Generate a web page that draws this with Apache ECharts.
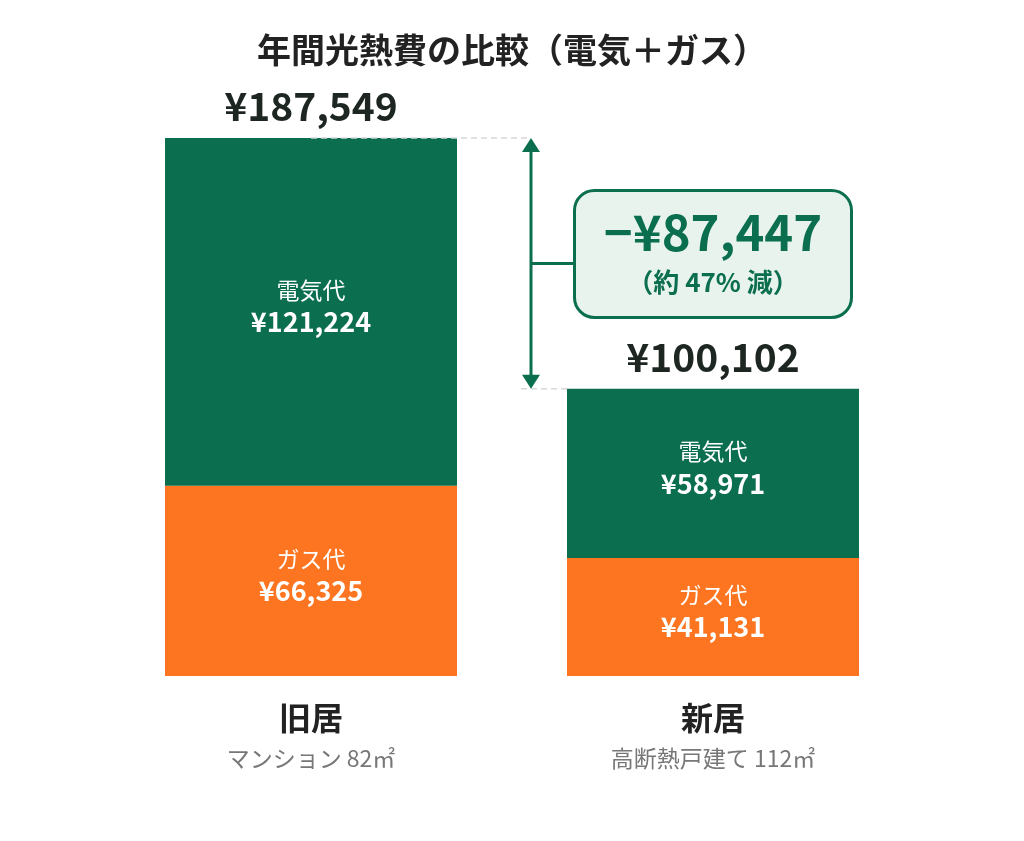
<!DOCTYPE html>
<html>
<head>
<meta charset="utf-8">
<script src="https://cdn.jsdelivr.net/npm/echarts@6/dist/echarts.min.js"></script>
<style>
html, body { margin: 0; padding: 0; background: #fff; }
#main { width: 1024px; height: 841px; }
</style>
</head>
<body>
<div id="main"></div>
<script>
var homes = ['旧居', '新居'];
var homeNotes = ['マンション 82㎡', '高断熱戸建て 112㎡'];
var gasCost = [66325, 41131];
var elecCost = [121224, 58971];
var totals = [187549, 100102];

var GREEN = '#0b6e4f';
var ORANGE = '#fd7520';
var FONT = '"Noto Sans CJK JP", "Noto Sans", sans-serif';

function yen(v) {
    return '¥' + v.toLocaleString('en-US');
}

var dom = document.getElementById('main');
var myChart = echarts.init(dom);

function segLabel(name) {
    return {
        show: true,
        position: 'inside',
        offset: [0, -6],
        formatter: function (p) {
            return '{a|' + name + '}\n{b|' + yen(p.value) + '}';
        },
        rich: {
            a: { color: '#fff', fontSize: 23, lineHeight: 32, fontFamily: FONT },
            b: { color: '#fff', fontSize: 27, fontWeight: 'bold', lineHeight: 32, fontFamily: FONT }
        }
    };
}

var option = {
    animation: false,
    title: {
        text: '年間光熱費の比較（電気＋ガス）',
        left: 'center',
        top: 28,
        textStyle: { fontSize: 34, fontWeight: 'bold', color: '#222', fontFamily: FONT }
    },
    grid: { left: 110, right: 110, top: 138, bottom: 165 },
    xAxis: {
        type: 'category',
        data: homes,
        axisLine: { show: false },
        axisTick: { show: false },
        axisLabel: {
            margin: 22,
            formatter: function (v, i) {
                return '{a|' + v + '}\n{b|' + homeNotes[i] + '}';
            },
            rich: {
                a: { fontSize: 32, fontWeight: 'bold', color: '#222', lineHeight: 40, fontFamily: FONT },
                b: { fontSize: 23, color: '#777', lineHeight: 40, fontFamily: FONT }
            }
        }
    },
    yAxis: {
        type: 'value',
        min: 0,
        max: totals[0],
        show: false,
        splitLine: { show: false }
    },
    series: [
        {
            name: 'ガス代',
            type: 'bar',
            stack: 'cost',
            barWidth: 292,
            data: gasCost,
            itemStyle: { color: ORANGE },
            label: segLabel('ガス代')
        },
        {
            name: '電気代',
            type: 'bar',
            stack: 'cost',
            barWidth: 292,
            data: elecCost,
            itemStyle: { color: GREEN },
            label: segLabel('電気代')
        },
        {
            name: '合計',
            type: 'scatter',
            data: totals,
            symbolSize: 0,
            silent: true,
            itemStyle: { opacity: 1 },
            label: {
                show: true,
                position: 'top',
                distance: 12,
                formatter: function (p) { return yen(p.value); },
                fontSize: 39,
                fontWeight: 'bold',
                color: '#1e2622',
                fontFamily: FONT
            }
        }
    ]
};
myChart.setOption(option);

// 差額の矢印と吹き出し
var pOld = myChart.convertToPixel({ seriesIndex: 0 }, [0, totals[0]]);
var pNew = myChart.convertToPixel({ seriesIndex: 0 }, [1, totals[1]]);
var arrowX = pOld[0] + 220;
var newLeft = pNew[0] - 146;
var midY = (pOld[1] + pNew[1]) / 2;
var diff = totals[0] - totals[1];
var pct = Math.round(diff / totals[0] * 100);
var boxW = 277, boxH = 127;
var boxX = pNew[0] - boxW / 2;
var boxY = midY - 73;

myChart.setOption({
    graphic: [
        {
            type: 'line',
            shape: { x1: pOld[0], y1: pOld[1], x2: arrowX, y2: pOld[1] },
            style: { stroke: '#d8d8d8', lineWidth: 1.5, lineDash: [6, 4] },
            z: 10
        },
        {
            type: 'line',
            shape: { x1: arrowX - 10, y1: pNew[1], x2: newLeft, y2: pNew[1] },
            style: { stroke: '#d8d8d8', lineWidth: 1.5, lineDash: [6, 4] },
            z: 10
        },
        {
            type: 'line',
            shape: { x1: arrowX, y1: pOld[1] + 10, x2: arrowX, y2: pNew[1] - 10 },
            style: { stroke: GREEN, lineWidth: 3 },
            z: 11
        },
        {
            type: 'polygon',
            shape: { points: [[arrowX, pOld[1]], [arrowX - 9, pOld[1] + 14], [arrowX + 9, pOld[1] + 14]] },
            style: { fill: GREEN },
            z: 11
        },
        {
            type: 'polygon',
            shape: { points: [[arrowX, pNew[1]], [arrowX - 9, pNew[1] - 14], [arrowX + 9, pNew[1] - 14]] },
            style: { fill: GREEN },
            z: 11
        },
        {
            type: 'line',
            shape: { x1: arrowX, y1: midY, x2: boxX, y2: midY },
            style: { stroke: GREEN, lineWidth: 3 },
            z: 11
        },
        {
            type: 'rect',
            shape: { x: boxX, y: boxY, width: boxW, height: boxH, r: 20 },
            style: { fill: '#e7f3ec', stroke: GREEN, lineWidth: 3 },
            z: 12
        },
        {
            type: 'text',
            x: pNew[0],
            y: boxY + 42,
            style: {
                text: '−' + yen(diff),
                fill: GREEN,
                fontSize: 49,
                fontWeight: 'bold',
                fontFamily: FONT,
                align: 'center',
                verticalAlign: 'middle'
            },
            z: 13
        },
        {
            type: 'text',
            x: pNew[0],
            y: boxY + 92,
            style: {
                text: '（約 ' + pct + '% 減）',
                fill: GREEN,
                fontSize: 26,
                fontWeight: 'bold',
                fontFamily: FONT,
                align: 'center',
                verticalAlign: 'middle'
            },
            z: 13
        }
    ]
});
</script>
</body>
</html>
